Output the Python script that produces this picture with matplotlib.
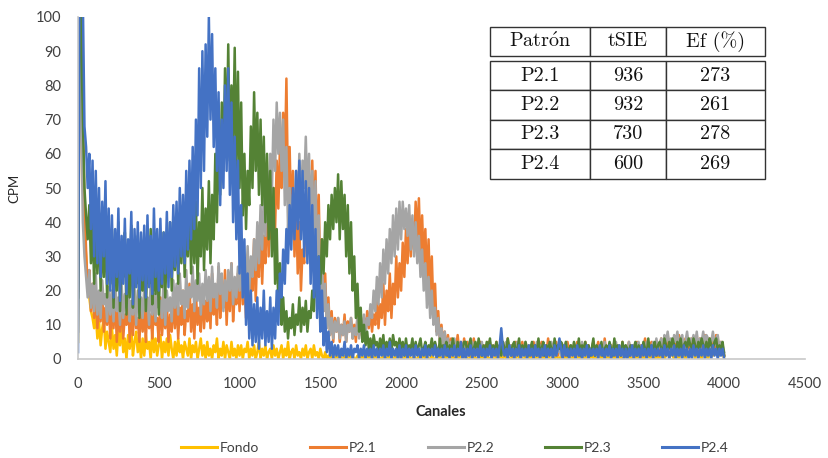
import numpy as np
import matplotlib

matplotlib.use("Agg")
import matplotlib.pyplot as plt

plt.rcParams['font.family'] = ['Lato', 'DejaVu Sans']
plt.rcParams['mathtext.fontset'] = 'cm'

# canales del espectro, cada 10
canales = np.arange(0, 4001, 10)

fondo = [
    5, 100, 120, 60, 38, 30, 22, 18, 14, 12, 9, 13, 6, 11, 4, 9, 12, 3, 8, 5,
    2, 9, 3, 7, 1, 8, 4, 10, 2, 6, 0, 7, 3, 9, 1, 5, 8, 2, 6, 0,
    6, 1, 7, 3, 5, 0, 8, 2, 6, 1, 4, 7, 0, 5, 2, 6, 1, 7, 3, 0,
    5, 1, 6, 2, 4, 0, 5, 3, 1, 6, 0, 4, 2, 5, 0, 3, 6, 1, 4, 0,
    5, 1, 3, 0, 4, 2, 6, 0, 3, 1, 5, 0, 4, 2, 0, 5, 1, 3, 0, 4,
    1, 4, 0, 3, 2, 5, 0, 3, 1, 4, 0, 2, 5, 0, 3, 1, 4, 0, 2, 3,
    0, 4, 1, 3, 0, 2, 4, 0, 3, 1, 5, 0, 2, 3, 0, 4, 1, 2, 0, 3,
    1, 4, 0, 2, 3, 0, 4, 1, 2, 0, 3, 1, 0, 2, 0, 1, 0, 1, 0, 0,
    1, 0, 2, 0, 0, 1, 0, 0, 2, 0, 1, 0, 0, 1, 0, 0, 1, 0, 0, 1,
    0, 1, 0, 0, 2, 0, 1, 0, 0, 1, 0, 0, 1, 0, 2, 0, 0, 1, 0, 0,
    1, 0, 0, 2, 0, 1, 0, 0, 1, 0, 0, 1, 0, 0, 2, 0, 1, 0, 0, 1,
    0, 0, 1, 0, 1, 0, 0, 2, 0, 1, 0, 0, 1, 0, 0, 1, 0, 2, 0, 0,
    1, 0, 0, 1, 0, 2, 0, 0, 1, 0, 1, 0, 0, 2, 0, 0, 1, 0, 0, 1,
    0, 1, 0, 0, 2, 0, 1, 0, 0, 1, 0, 0, 3, 0, 1, 0, 0, 1, 0, 0,
    1, 0, 0, 1, 0, 0, 2, 0, 1, 0, 0, 1, 0, 0, 1, 0, 2, 0, 0, 1,
    0, 0, 1, 0, 2, 0, 0, 1, 0, 0, 1, 0, 3, 0, 0, 1, 0, 0, 2, 0,
    1, 0, 0, 2, 0, 1, 0, 0, 1, 0, 0, 2, 0, 1, 0, 0, 1, 0, 0, 1,
    0, 1, 0, 0, 2, 0, 1, 0, 3, 0, 0, 1, 0, 2, 0, 1, 0, 0, 1, 0,
    1, 0, 2, 0, 1, 3, 0, 2, 1, 0, 3, 1, 0, 2, 4, 1, 0, 3, 6, 2,
    1, 3, 0, 2, 1, 4, 0, 2, 3, 1, 0, 2, 4, 1, 3, 2, 6, 1, 3, 2,
    0,
]

p21 = [
    20, 80, 110, 70, 45, 32, 20, 26, 14, 22, 12, 19, 9, 17, 11, 20, 8, 15, 10, 18,
    6, 16, 9, 19, 5, 14, 8, 18, 6, 13, 10, 20, 5, 15, 7, 17, 9, 12, 5, 16,
    8, 15, 5, 17, 9, 13, 6, 16, 10, 12, 5, 18, 7, 14, 9, 16, 5, 13, 8, 17,
    9, 18, 6, 15, 10, 20, 7, 14, 11, 22, 8, 16, 6, 19, 10, 15, 8, 21, 9, 17,
    11, 22, 9, 25, 13, 18, 10, 27, 12, 20, 15, 26, 10, 22, 14, 28, 11, 19, 16, 25,
    14, 28, 16, 24, 12, 30, 18, 26, 20, 35, 17, 32, 24, 40, 22, 36, 28, 48, 30, 44,
    35, 50, 38, 58, 44, 62, 50, 72, 56, 82, 48, 62, 40, 55, 30, 46, 25, 40, 20, 32,
    28, 45, 35, 52, 40, 58, 38, 55, 30, 48, 22, 35, 14, 25, 10, 18, 7, 14, 5, 12,
    8, 12, 5, 10, 7, 13, 5, 11, 8, 12, 6, 10, 5, 13, 7, 11, 6, 12, 8, 14,
    9, 15, 8, 13, 10, 18, 9, 16, 12, 22, 10, 20, 14, 25, 12, 22, 16, 30, 18, 28,
    20, 34, 24, 38, 28, 42, 30, 40, 32, 46, 35, 47, 30, 42, 28, 38, 22, 35, 18, 30,
    14, 22, 8, 14, 5, 10, 4, 8, 2, 7, 3, 6, 1, 5, 3, 7, 2, 5, 1, 6,
    2, 5, 1, 4, 3, 6, 1, 4, 2, 5, 1, 3, 4, 1, 5, 2, 4, 1, 3, 5,
    1, 4, 2, 5, 1, 3, 6, 2, 4, 1, 3, 5, 2, 4, 1, 5, 2, 3, 1, 4,
    3, 1, 5, 2, 4, 1, 3, 5, 1, 4, 2, 6, 1, 3, 4, 2, 5, 1, 3, 2,
    4, 1, 3, 5, 2, 4, 1, 3, 2, 5, 1, 4, 3, 1, 5, 2, 4, 1, 3, 5,
    1, 3, 5, 2, 4, 1, 6, 2, 3, 1, 4, 2, 5, 1, 3, 4, 1, 5, 2, 3,
    2, 5, 1, 4, 3, 1, 5, 2, 4, 1, 3, 6, 2, 4, 1, 5, 3, 2, 4, 1,
    3, 6, 2, 5, 4, 7, 3, 5, 2, 6, 4, 3, 7, 2, 5, 4, 6, 3, 5, 2,
    6, 3, 5, 7, 2, 6, 4, 3, 7, 5, 2, 6, 4, 5, 3, 7, 4, 2, 5, 3,
    1,
]

p22 = [
    8, 105, 70, 40, 30, 24, 18, 26, 15, 22, 14, 25, 13, 20, 12, 23, 16, 19, 11, 21,
    13, 20, 11, 23, 14, 18, 10, 22, 12, 19, 15, 24, 11, 17, 13, 21, 10, 20, 14, 18,
    12, 21, 14, 18, 10, 23, 13, 19, 11, 22, 15, 17, 12, 24, 10, 20, 14, 18, 11, 23,
    15, 22, 13, 25, 16, 20, 12, 26, 15, 21, 18, 27, 14, 23, 17, 25, 13, 22, 16, 26,
    17, 24, 14, 27, 18, 22, 15, 28, 19, 25, 14, 23, 17, 26, 20, 28, 16, 24, 18, 27,
    20, 30, 18, 27, 22, 33, 20, 30, 24, 35, 26, 40, 28, 45, 32, 48, 36, 55, 40, 60,
    48, 70, 55, 75, 60, 72, 55, 70, 45, 62, 38, 50, 35, 48, 40, 55, 42, 60, 45, 58,
    50, 65, 46, 60, 40, 55, 35, 52, 28, 42, 18, 30, 14, 22, 9, 16, 7, 12, 6, 11,
    8, 12, 6, 10, 7, 11, 5, 10, 8, 12, 6, 9, 7, 12, 6, 11, 8, 13, 7, 12,
    10, 16, 12, 20, 14, 24, 16, 28, 18, 32, 22, 35, 25, 38, 28, 42, 30, 44, 32, 46,
    35, 46, 38, 44, 36, 45, 32, 42, 30, 40, 28, 36, 24, 32, 20, 28, 15, 24, 12, 20,
    10, 15, 7, 12, 5, 9, 4, 8, 3, 6, 2, 5, 3, 6, 1, 5, 2, 4, 3, 5,
    3, 1, 4, 2, 5, 3, 1, 4, 2, 3, 5, 1, 3, 4, 2, 5, 1, 3, 2, 4,
    2, 4, 1, 3, 2, 5, 1, 3, 4, 2, 3, 1, 5, 2, 4, 1, 3, 5, 2, 3,
    4, 2, 3, 1, 5, 2, 4, 1, 3, 2, 1, 4, 2, 5, 3, 1, 4, 2, 3, 1,
    1, 3, 5, 2, 1, 4, 2, 3, 1, 4, 3, 2, 5, 1, 3, 4, 2, 1, 3, 5,
    3, 2, 1, 4, 3, 1, 5, 2, 3, 1, 4, 2, 3, 5, 1, 4, 2, 3, 1, 4,
    2, 5, 3, 1, 4, 2, 3, 5, 1, 4, 2, 3, 5, 2, 4, 3, 5, 2, 6, 3,
    4, 6, 3, 7, 5, 8, 4, 6, 3, 7, 5, 8, 4, 6, 7, 3, 5, 8, 4, 6,
    5, 7, 4, 8, 3, 6, 5, 8, 4, 7, 6, 3, 5, 8, 4, 6, 7, 3, 5, 4,
    2,
]

p23 = [
    18, 115, 95, 70, 50, 42, 35, 45, 28, 40, 22, 38, 25, 42, 20, 36, 24, 40, 18, 33,
    22, 38, 15, 34, 20, 40, 14, 30, 24, 37, 13, 32, 18, 39, 15, 28, 22, 36, 12, 31,
    20, 35, 14, 30, 22, 38, 16, 28, 19, 34, 13, 31, 21, 37, 18, 33, 24, 40, 20, 36,
    26, 42, 22, 38, 28, 45, 24, 40, 30, 48, 25, 43, 28, 46, 22, 40, 30, 50, 26, 44,
    32, 52, 28, 48, 35, 60, 40, 65, 48, 75, 55, 85, 60, 92, 58, 80, 62, 91, 55, 84,
    50, 75, 42, 60, 38, 55, 45, 68, 50, 78, 55, 72, 48, 70, 45, 65, 40, 60, 35, 55,
    30, 50, 22, 38, 15, 28, 10, 18, 8, 14, 6, 12, 9, 16, 7, 13, 10, 18, 8, 15,
    10, 17, 8, 14, 12, 20, 14, 25, 18, 30, 22, 35, 25, 40, 30, 45, 35, 48, 38, 50,
    40, 54, 35, 52, 38, 48, 30, 45, 25, 40, 20, 30, 12, 22, 8, 15, 5, 10, 4, 8,
    3, 6, 2, 7, 4, 5, 2, 6, 3, 7, 1, 5, 3, 6, 2, 7, 4, 5, 2, 6,
    3, 5, 1, 6, 2, 4, 3, 6, 1, 5, 2, 4, 6, 2, 3, 5, 1, 4, 3, 6,
    2, 5, 3, 1, 6, 2, 4, 3, 5, 1, 4, 2, 6, 3, 1, 5, 2, 4, 3, 5,
    5, 2, 4, 6, 1, 3, 5, 2, 6, 3, 1, 4, 2, 5, 3, 6, 1, 4, 2, 5,
    2, 4, 1, 5, 3, 2, 6, 3, 1, 4, 5, 2, 3, 6, 1, 4, 2, 5, 3, 1,
    3, 5, 2, 4, 1, 6, 2, 3, 5, 1, 4, 2, 5, 3, 1, 6, 2, 4, 3, 5,
    4, 2, 5, 1, 3, 4, 2, 5, 3, 2, 6, 1, 4, 3, 5, 2, 4, 1, 3, 6,
    1, 4, 3, 2, 5, 1, 3, 4, 2, 5, 3, 1, 6, 2, 4, 3, 1, 5, 2, 4,
    3, 1, 4, 2, 3, 5, 1, 4, 3, 2, 5, 3, 1, 6, 2, 4, 3, 5, 1, 4,
    5, 3, 2, 6, 4, 2, 5, 3, 6, 4, 2, 5, 3, 6, 2, 4, 5, 3, 6, 4,
    3, 6, 4, 2, 5, 3, 6, 4, 3, 5, 2, 6, 4, 3, 5, 6, 2, 4, 3, 5,
    1,
]

p24 = [
    2, 120, 115, 105, 68, 62, 50, 60, 38, 58, 30, 55, 28, 50, 24, 46, 30, 52, 22, 44,
    20, 42, 18, 38, 24, 44, 17, 36, 22, 41, 19, 35, 25, 43, 16, 38, 21, 40, 18, 37,
    23, 39, 18, 42, 21, 36, 19, 44, 24, 38, 20, 41, 22, 37, 25, 43, 21, 40, 24, 45,
    27, 46, 25, 50, 30, 48, 28, 55, 32, 58, 35, 62, 38, 70, 42, 85, 50, 90, 55, 92,
    65, 100, 70, 95, 62, 85, 55, 78, 45, 70, 50, 80, 55, 85, 48, 75, 40, 65, 35, 58,
    25, 45, 18, 35, 10, 25, 6, 20, 4, 16, 5, 18, 3, 15, 6, 20, 4, 14, 5, 18,
    3, 15, 6, 20, 10, 25, 18, 32, 22, 38, 28, 45, 32, 50, 35, 55, 38, 58, 35, 55,
    30, 52, 28, 50, 22, 45, 18, 38, 12, 30, 8, 20, 4, 12, 2, 8, 1, 5, 0, 4,
    1, 4, 0, 3, 1, 5, 0, 3, 1, 4, 0, 3, 2, 4, 0, 3, 1, 4, 0, 3,
    1, 3, 0, 4, 1, 3, 0, 3, 1, 4, 0, 3, 1, 5, 0, 3, 1, 3, 0, 4,
    0, 3, 1, 4, 0, 3, 1, 3, 0, 4, 1, 3, 0, 3, 1, 4, 0, 3, 1, 3,
    1, 4, 0, 3, 1, 3, 0, 4, 1, 3, 0, 3, 1, 4, 0, 3, 1, 5, 0, 3,
    0, 3, 1, 4, 0, 3, 1, 3, 0, 4, 1, 3, 0, 3, 1, 4, 0, 3, 1, 3,
    0, 4, 9, 3, 1, 3, 0, 4, 1, 3, 0, 3, 1, 4, 0, 3, 1, 3, 0, 4,
    1, 3, 0, 4, 1, 3, 0, 3, 1, 4, 0, 3, 1, 3, 0, 4, 1, 3, 6, 3,
    0, 4, 1, 3, 0, 3, 1, 3, 0, 4, 1, 3, 0, 3, 1, 4, 0, 3, 1, 3,
    1, 3, 0, 4, 1, 3, 0, 3, 1, 4, 0, 3, 1, 3, 0, 4, 1, 3, 0, 3,
    0, 3, 1, 4, 0, 3, 1, 3, 0, 4, 1, 3, 0, 3, 1, 4, 0, 3, 1, 3,
    1, 3, 0, 4, 1, 3, 0, 3, 1, 4, 0, 3, 1, 3, 0, 4, 1, 3, 0, 3,
    0, 4, 1, 3, 0, 3, 1, 4, 0, 3, 1, 3, 0, 4, 1, 3, 0, 3, 1, 3,
    0,
]

series = [('Fondo', fondo, '#FFC000'),
          ('P2.1', p21, '#ED7D31'),
          ('P2.2', p22, '#A5A5A5'),
          ('P2.3', p23, '#548235'),
          ('P2.4', p24, '#4472C4')]

# tabla de patrones
tabla_cols = [r'Patr$\acute{\mathrm{o}}$n', 'tSIE', 'Ef (%)']
patrones = ['P2.1', 'P2.2', 'P2.3', 'P2.4']
tsie = [936, 932, 730, 600]
eficiencia = [273, 261, 278, 269]

fig = plt.figure(figsize=(8.29, 4.58), dpi=100)
ax = fig.add_axes([78 / 829, 99 / 458, 727 / 829, 342 / 458])

for nombre, valores, color in series:
    ax.plot(canales, valores, color=color, lw=1.8, label=nombre)

ax.set_xlim(0, 4500)
ax.set_ylim(0, 100)
ax.set_xticks(np.arange(0, 4501, 500))
ax.set_yticks(np.arange(0, 101, 10))
ax.tick_params(length=0, labelsize=10.5, colors='#404040')
ax.tick_params(axis='x', pad=13)
ax.tick_params(axis='y', pad=12)
for lado in ['top', 'right']:
    ax.spines[lado].set_visible(False)
for lado in ['left', 'bottom']:
    ax.spines[lado].set_color('#C8C8C8')
    ax.spines[lado].set_linewidth(1.2)

fig.text(441 / 829, 1 - 412 / 458, 'Canales', ha='center', va='center',
         fontsize=10.5, fontweight='bold', color='#262626')
fig.text(14 / 829, 1 - 188 / 458, 'CPM', ha='center', va='center',
         rotation=90, fontsize=9.5, color='#262626')

leg = fig.legend(loc='center', bbox_to_anchor=(455 / 829, 1 - 448 / 458),
                 ncol=5, frameon=False, fontsize=10, handlelength=2.6,
                 handletextpad=0.2, columnspacing=3.65)
for linea in leg.get_lines():
    linea.set_linewidth(2.2)
for t in leg.get_texts():
    t.set_color('#404040')

# tabla dibujada en coordenadas de figura
tx = fig.add_axes([0, 0, 1, 1], facecolor='none')
tx.axis('off')
x0, x1 = 490 / 829, 765 / 829
anchos = [100 / 275, 76 / 275, 99 / 275]
fuente_tabla = ['cmr10', 'DejaVu Serif']

cab = tx.table(cellText=[tabla_cols], colWidths=anchos, cellLoc='center',
               bbox=[x0, 1 - 56 / 458, x1 - x0, 29 / 458])
filas = [[p, str(t), str(e)] for p, t, e in zip(patrones, tsie, eficiencia)]
cuerpo = tx.table(cellText=filas, colWidths=anchos, cellLoc='center',
                  bbox=[x0, 1 - 178.5 / 458, x1 - x0, 117.5 / 458])
for tb in (cab, cuerpo):
    tb.auto_set_font_size(False)
    for celda in tb.get_celld().values():
        celda.set_edgecolor('#333333')
        celda.set_linewidth(1.0)
        celda.get_text().set_fontsize(14.5)
        celda.get_text().set_fontfamily(fuente_tabla)
        celda.get_text().set_color('#111111')

fig.savefig('out.png', dpi=100)
